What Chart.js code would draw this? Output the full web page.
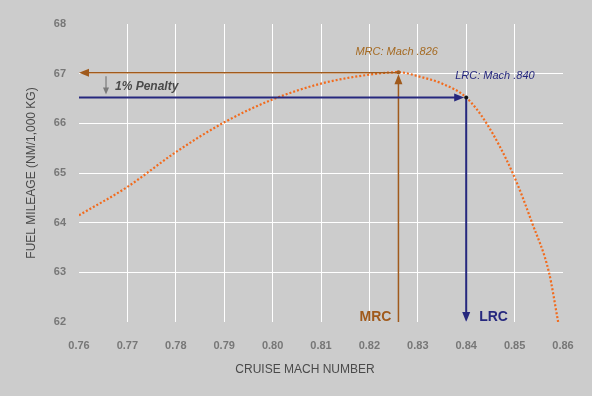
<!DOCTYPE html>
<html>
<head>
<style>
  * { margin: 0; padding: 0; box-sizing: border-box; }
  body { background: #cccccc; width: 592px; height: 396px; overflow: hidden; }
  .chartBox { position: relative; width: 592px; height: 396px; }
</style>
</head>
<body>
<div class="chartBox">
  <canvas id="myChart"></canvas>
</div>

<script src="https://cdn.jsdelivr.net/npm/chart.js/dist/chart.umd.min.js"></script>
<script>
// setup
const machNumbers = [0.76, 0.77, 0.78, 0.79, 0.80, 0.81, 0.82, 0.826, 0.83, 0.835, 0.84, 0.8442, 0.8496, 0.8536, 0.8571, 0.859];
const fuelMileage = [64.15, 64.72, 65.42, 66.02, 66.48, 66.80, 66.98, 67.03, 66.95, 66.80, 66.52, 66.0, 65.0, 64.0, 63.0, 62.0];
const mrcPoint = [0.826, 67.03];
const lrcPoint = [0.84, 66.52];
const xTicks = [0.76, 0.86];
const yTicks = [62, 68];

const brown = '#a05a1c';
const navy = '#26287e';
const font = "'Liberation Sans', Arial, sans-serif";

function gridColor(ctx) {
  const n = ctx.scale.ticks.length;
  return (ctx.index === 0 || ctx.index === n - 1) ? 'rgba(0,0,0,0)' : '#ffffff';
}

function arrowHead(ctx, x, y, dir, color, len, half) {
  ctx.save();
  ctx.fillStyle = color;
  ctx.translate(x, y);
  ctx.rotate(dir);
  ctx.beginPath();
  ctx.moveTo(0, 0);
  ctx.lineTo(-len, -half);
  ctx.lineTo(-len, half);
  ctx.closePath();
  ctx.fill();
  ctx.restore();
}

const markers = {
  id: 'markers',
  afterDatasetsDraw(chart) {
    const { ctx, chartArea: a, scales: { x, y } } = chart;
    const mx = x.getPixelForValue(mrcPoint[0]), my = y.getPixelForValue(mrcPoint[1]);
    const lx = x.getPixelForValue(lrcPoint[0]), ly = y.getPixelForValue(lrcPoint[1]);
    ctx.save();
    // MRC lines
    ctx.strokeStyle = brown;
    ctx.lineWidth = 1.5;
    ctx.beginPath();
    ctx.moveTo(mx, my + 0.5); ctx.lineTo(a.left + 8, my + 0.5);
    ctx.moveTo(mx, a.bottom); ctx.lineTo(mx, my + 10);
    ctx.stroke();
    arrowHead(ctx, a.left, my + 0.5, Math.PI, brown, 10, 4);
    arrowHead(ctx, mx, my + 2, -Math.PI / 2, brown, 10, 4);
    // LRC lines
    ctx.strokeStyle = navy;
    ctx.lineWidth = 2;
    ctx.beginPath();
    ctx.moveTo(a.left, ly); ctx.lineTo(lx - 8, ly);
    ctx.moveTo(lx, ly); ctx.lineTo(lx, a.bottom - 8);
    ctx.stroke();
    arrowHead(ctx, lx - 2, ly, 0, navy, 10, 4);
    arrowHead(ctx, lx, a.bottom, Math.PI / 2, navy, 10, 4);
    // points
    ctx.fillStyle = brown;
    ctx.beginPath(); ctx.arc(mx, my, 2, 0, Math.PI * 2); ctx.fill();
    ctx.fillStyle = '#111';
    ctx.beginPath(); ctx.arc(lx, ly, 2, 0, Math.PI * 2); ctx.fill();
    // penalty arrow
    ctx.strokeStyle = '#7a7a7a';
    ctx.lineWidth = 1.2;
    ctx.beginPath();
    ctx.moveTo(a.left + 27, my + 4); ctx.lineTo(a.left + 27, ly - 8);
    ctx.stroke();
    arrowHead(ctx, a.left + 27, ly - 3, Math.PI / 2, '#7a7a7a', 7, 3);
    // texts
    ctx.textBaseline = 'middle';
    ctx.textAlign = 'left';
    ctx.fillStyle = '#4a4a4a';
    ctx.font = "italic bold 12px " + font;
    ctx.fillText('1% Penalty', a.left + 36, (my + ly) / 2 + 2);
    ctx.fillStyle = '#a56a22';
    ctx.font = "italic 11px " + font;
    ctx.fillText('MRC: Mach .826', mx - 43, my - 20);
    ctx.fillStyle = navy;
    ctx.fillText('LRC: Mach .840', lx - 11, ly - 22);
    ctx.font = "bold 14px " + font;
    ctx.textAlign = 'right';
    ctx.fillStyle = brown;
    ctx.fillText('MRC', mx - 7, a.bottom - 5);
    ctx.textAlign = 'left';
    ctx.fillStyle = navy;
    ctx.fillText('LRC', lx + 13, a.bottom - 5);
    // x axis title
    ctx.textAlign = 'center';
    ctx.fillStyle = '#4a4a4a';
    ctx.font = "12px " + font;
    ctx.fillText('CRUISE MACH NUMBER', (a.left + a.right) / 2 - 16, a.bottom + 48);
    ctx.restore();
  }
};

const data = {
  datasets: [{
    data: machNumbers.map((m, i) => ({ x: m, y: fuelMileage[i] })),
    borderColor: '#f26b1d',
    borderWidth: 2.2,
    borderDash: [2, 2],
    pointRadius: 0,
    cubicInterpolationMode: 'monotone',
    fill: false
  }]
};

const config = {
  type: 'line',
  data,
  options: {
    responsive: false,
    animation: false,
    layout: { padding: { top: 24, right: 29, left: 0, bottom: 0 } },
    plugins: { legend: { display: false }, tooltip: { enabled: false } },
    scales: {
      x: {
        type: 'linear',
        min: xTicks[0],
        max: xTicks[1],
        afterFit: s => { s.height = 74; },
        border: { display: false },
        grid: { color: gridColor, drawTicks: false, lineWidth: 1 },
        ticks: {
          stepSize: 0.01,
          padding: 17,
          color: '#777777',
          font: { family: font, size: 11, weight: 'bold' },
          callback: v => v.toFixed(2)
        }
      },
      y: {
        min: yTicks[0],
        max: yTicks[1],
        afterFit: s => { s.width = 79; },
        border: { display: false },
        grid: { color: gridColor, drawTicks: false, lineWidth: 1 },
        ticks: {
          stepSize: 1,
          padding: 13,
          color: '#777777',
          font: { family: font, size: 11, weight: 'bold' }
        },
        title: {
          display: true,
          text: 'FUEL MILEAGE (NM/1,000 KG)',
          color: '#4a4a4a',
          font: { family: font, size: 12 },
          padding: { top: 24, bottom: 0 }
        }
      }
    }
  },
  plugins: [markers]
};

const canvas = document.getElementById('myChart');
canvas.width = 592;
canvas.height = 396;
const myChart = new Chart(canvas, config);
</script>
</body>
</html>
